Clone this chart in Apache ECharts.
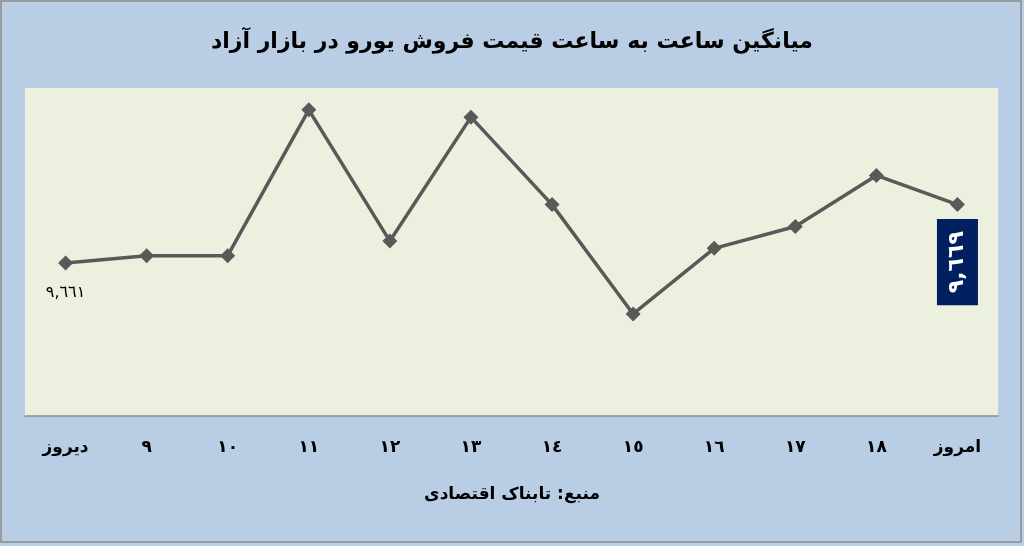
<!DOCTYPE html>
<html>
<head>
<meta charset="UTF-8">
<title></title>
<script src="https://cdn.jsdelivr.net/npm/echarts@6/dist/echarts.min.js"></script>
<style>
  html, body { margin: 0; padding: 0; background: #b9cde5; }
  #main { width: 1024px; height: 546px; }
</style>
</head>
<body>
<div id="main"></div>
<script>
  // hours (Arabic-Indic digits as in the picture)
  var hours = ['دیروز', '٩', '١٠', '١١', '١٢', '١٣', '١٤', '١٥', '١٦', '١٧', '١٨', 'امروز'];
  // average euro price per hour
  var prices = [9661, 9662, 9662, 9682, 9664, 9681, 9669, 9654, 9663, 9666, 9673, 9669];

  function toArabicDigits(n) {
    var s = String(n).replace(/\B(?=(\d{3})+(?!\d))/g, ',');
    return s.replace(/\d/g, function (d) { return String.fromCharCode(0x0660 + Number(d)); });
  }

  var font = 'DejaVu Sans';
  var last = prices.length - 1;
  var fmt = function (p) { return toArabicDigits(p.value); };

  var seriesData = prices.map(function (v, i) {
    var item = { value: v };
    if (i === 0) {
      item.label = {
        show: true, position: 'bottom', distance: 14, formatter: fmt,
        color: '#000', fontSize: 16, fontFamily: font
      };
    } else if (i === last) {
      item.label = {
        show: true, position: 'bottom', distance: 7, formatter: fmt,
        rotate: 90, align: 'right', verticalAlign: 'middle',
        color: '#fff', fontSize: 22, fontWeight: 'bold', fontFamily: font,
        backgroundColor: '#002060', padding: [9, 12, 10, 12]
      };
    }
    return item;
  });

  var myChart = echarts.init(document.getElementById('main'));
  myChart.setOption({
    backgroundColor: '#b9cde5',
    animation: false,
    title: {
      text: 'میانگین ساعت به ساعت قیمت فروش یورو در بازار آزاد',
      left: 'center', top: 26,
      textStyle: { fontFamily: font, fontSize: 22, fontWeight: 'bold', color: '#000' }
    },
    grid: { left: 25, right: 26, top: 88, bottom: 130, backgroundColor: '#ebf1de', show: true, borderWidth: 0 },
    xAxis: {
      type: 'category',
      data: hours,
      boundaryGap: true,
      axisLine: { lineStyle: { color: '#8c8c8c', width: 1.5 } },
      axisTick: { show: false },
      axisLabel: { margin: 23, fontFamily: font, fontSize: 17, fontWeight: 'bold', color: '#000' }
    },
    yAxis: {
      type: 'value', min: 9640, max: 9685, interval: 5,
      show: false, splitLine: { show: false }
    },
    series: [{
      type: 'line',
      data: seriesData,
      symbol: 'diamond',
      symbolSize: 15,
      lineStyle: { color: '#595959', width: 3.5 },
      itemStyle: { color: '#595959' }
    }],
    graphic: [
      {
        type: 'text', left: 'center', top: 486,
        style: { text: 'منبع: تابناک اقتصادی', font: 'bold 17px "DejaVu Sans"', fill: '#000' }
      },
      {
        type: 'rect', silent: true,
        shape: { x: 1, y: 1, width: 1020, height: 541 },
        style: { fill: 'none', stroke: '#8a8a8a', lineWidth: 1.5 }
      }
    ]
  });
</script>
</body>
</html>
